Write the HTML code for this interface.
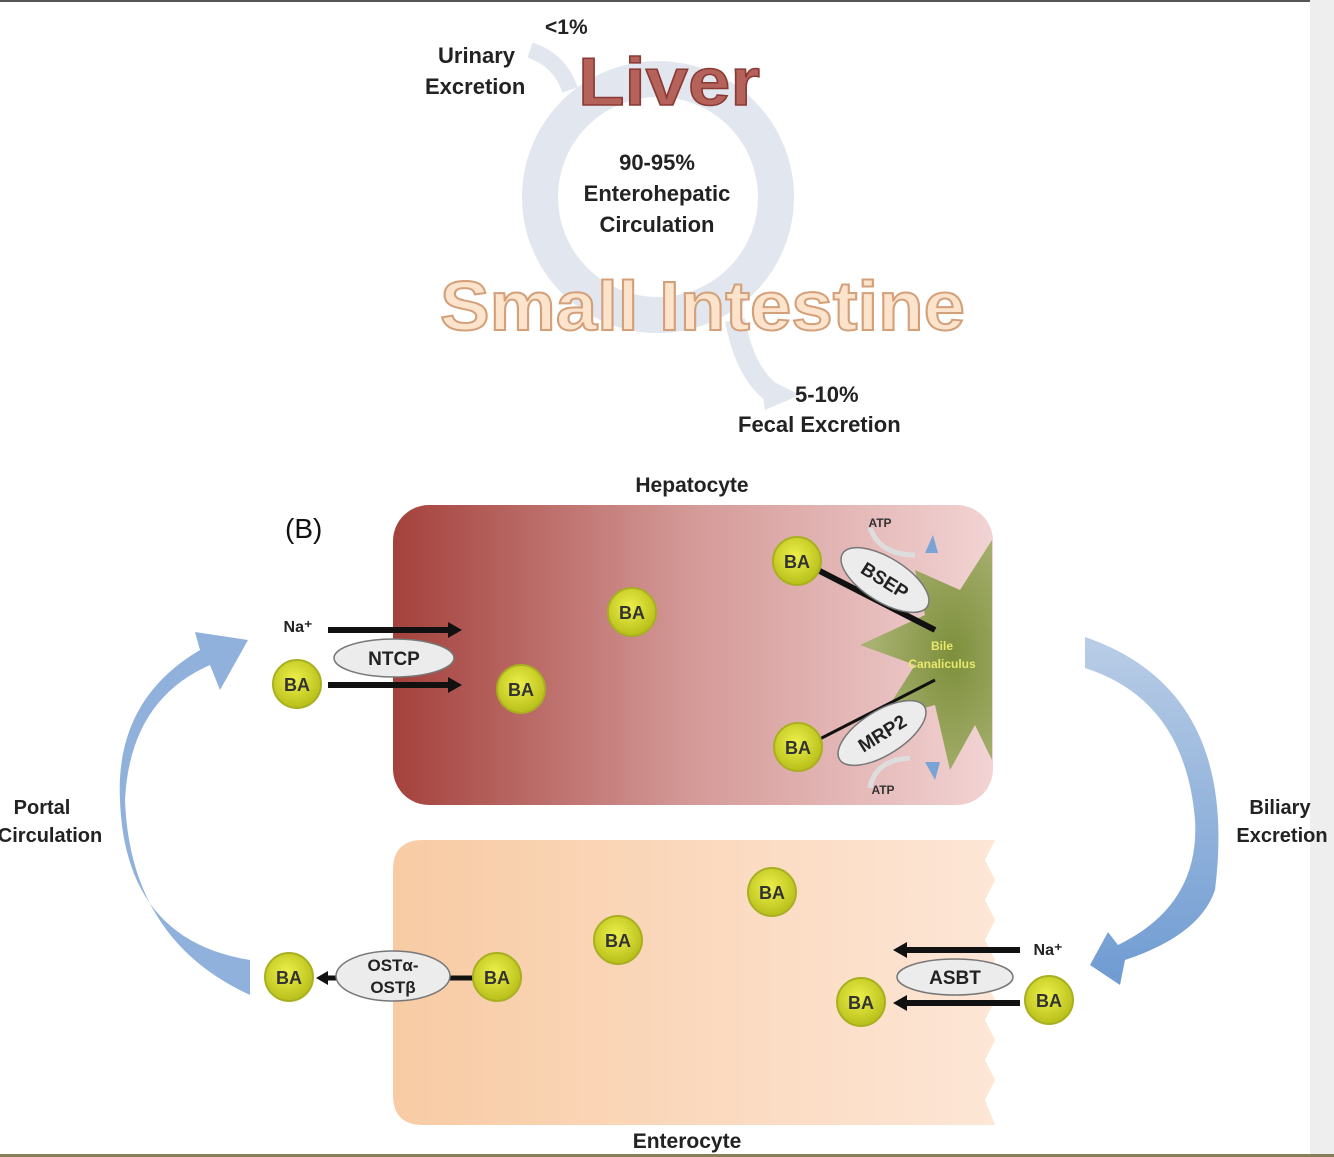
<!DOCTYPE html>
<html><head><meta charset="utf-8"><style>
body{margin:0;width:1334px;height:1157px;background:#fff;overflow:hidden;font-family:"Liberation Sans",sans-serif;}
svg{display:block}
</style></head><body>
<svg width="1334" height="1157" viewBox="0 0 1334 1157" font-family="Liberation Sans, sans-serif" font-weight="bold">
<defs>
<linearGradient id="hep" x1="0" x2="1"><stop offset="0" stop-color="#a4413c"/><stop offset="0.5" stop-color="#d49a98"/><stop offset="1" stop-color="#f2d3d3"/></linearGradient>
<linearGradient id="ent" x1="0" x2="1"><stop offset="0" stop-color="#f8cba4"/><stop offset="1" stop-color="#fde6d6"/></linearGradient>
<radialGradient id="ba" cx="0.45" cy="0.4" r="0.6"><stop offset="0" stop-color="#eef04a"/><stop offset="1" stop-color="#b8bf1a"/></radialGradient>
<radialGradient id="star" cx="0.7" cy="0.5" r="0.6"><stop offset="0" stop-color="#7d8f3c"/><stop offset="1" stop-color="#a8b170"/></radialGradient>
<linearGradient id="blu" x1="0" x2="0" y1="0" y2="1"><stop offset="0" stop-color="#b9cde6"/><stop offset="1" stop-color="#6f9bd2"/></linearGradient>
</defs>
<rect x="0" y="0" width="1334" height="2" fill="#555"/>
<rect x="1310" y="0" width="24" height="1157" fill="#eee"/>
<rect x="0" y="1154" width="1334" height="3" fill="#8a7d5c"/>

<!-- top circulation -->
<circle cx="658" cy="197" r="118" fill="none" stroke="#e2e7ef" stroke-width="36"/>
<path d="M530 50 Q560 60 570 90" fill="none" stroke="#e2e7ef" stroke-width="16"/>
<path d="M735 320 Q745 375 775 395" fill="none" stroke="#e2e7ef" stroke-width="20"/>
<polygon points="760,375 800,395 765,410" fill="#e2e7ef"/>
<text x="545" y="34" font-size="21" fill="#222">&lt;1%</text>
<text x="438" y="63" font-size="22" fill="#222">Urinary</text>
<text x="425" y="94" font-size="22" fill="#222">Excretion</text>
<text x="578" y="105" font-size="68" fill="#b5625a" stroke="#8a3a34" stroke-width="1.5" textLength="182" lengthAdjust="spacingAndGlyphs">Liver</text>
<text x="657" y="170" font-size="22" fill="#222" text-anchor="middle">90-95%</text>
<text x="657" y="201" font-size="22" fill="#222" text-anchor="middle">Enterohepatic</text>
<text x="657" y="232" font-size="22" fill="#222" text-anchor="middle">Circulation</text>
<text x="440" y="330" font-size="70" fill="#fbe3cc" stroke="#d4a07a" stroke-width="2" textLength="525" lengthAdjust="spacingAndGlyphs">Small Intestine</text>
<text x="795" y="402" font-size="22" fill="#222">5-10%</text>
<text x="738" y="432" font-size="22" fill="#222">Fecal Excretion</text>

<!-- boxes -->
<text x="692" y="492" font-size="21" fill="#222" text-anchor="middle">Hepatocyte</text>
<text x="285" y="538" font-size="28" fill="#111" font-weight="normal">(B)</text>
<rect x="393" y="505" width="600" height="300" rx="36" fill="url(#hep)"/>
<path d="M393 870 Q393 840 423 840 L995 840 L985 860 L995 880 L985 900 L995 920 L985 940 L995 960 L985 980 L995 1000 L985 1020 L995 1040 L985 1060 L995 1080 L985 1100 L995 1125 L423 1125 Q393 1125 393 1095 Z" fill="url(#ent)"/>
<text x="687" y="1148" font-size="21" fill="#222" text-anchor="middle">Enterocyte</text>

<!-- star -->
<polygon points="992,540 960,590 915,570 925,615 860,645 915,665 880,720 935,705 950,770 975,725 992,760" fill="url(#star)"/>
<text x="942" y="650" font-size="12" fill="#e8e86a" text-anchor="middle">Bile</text>
<text x="942" y="668" font-size="12" fill="#e8e86a" text-anchor="middle">Canaliculus</text>

<!-- lines -->
<g stroke="#111" fill="none">
<line x1="808" y1="565" x2="935" y2="630" stroke-width="6"/>
<line x1="808" y1="745" x2="935" y2="680" stroke-width="3"/>
<line x1="328" y1="630" x2="450" y2="630" stroke-width="6"/>
<line x1="328" y1="685" x2="450" y2="685" stroke-width="6"/>
<line x1="1020" y1="950" x2="905" y2="950" stroke-width="6"/>
<line x1="1020" y1="1003" x2="905" y2="1003" stroke-width="6"/>
<line x1="325" y1="978" x2="475" y2="978" stroke-width="5"/>
</g>
<g fill="#111">
<polygon points="448,622 462,630 448,638"/>
<polygon points="448,677 462,685 448,693"/>
<polygon points="907,942 893,950 907,958"/>
<polygon points="907,995 893,1003 907,1011"/>
<polygon points="328,971 316,978 328,985"/>
</g>

<!-- ATP arcs -->
<g fill="none" stroke="#ddd" stroke-width="5">
<path d="M870 528 Q880 555 915 555"/>
<path d="M870 788 Q875 760 910 758"/>
</g>
<polygon points="925,553 933,535 938,553" fill="#7aa3d6"/>
<polygon points="925,762 935,780 940,762" fill="#7aa3d6"/>
<text x="880" y="527" font-size="12" fill="#333" text-anchor="middle">ATP</text>
<text x="883" y="794" font-size="12" fill="#333" text-anchor="middle">ATP</text>

<!-- ovals -->
<g fill="#ececec" stroke="#777" stroke-width="1.5">
<ellipse cx="885" cy="580" rx="50" ry="22" transform="rotate(32 885 580)"/>
<ellipse cx="882" cy="733" rx="50" ry="22" transform="rotate(-32 882 733)"/>
<ellipse cx="394" cy="658" rx="60" ry="19"/>
<ellipse cx="393" cy="976" rx="57" ry="25"/>
<ellipse cx="955" cy="977" rx="58" ry="18"/>
</g>
<g font-size="19" fill="#222" text-anchor="middle">
<text x="885" y="587" transform="rotate(32 885 580)">BSEP</text>
<text x="882" y="740" transform="rotate(-32 882 733)">MRP2</text>
<text x="394" y="665">NTCP</text>
<text x="393" y="971" font-size="17">OSTα-</text>
<text x="393" y="993" font-size="17">OSTβ</text>
<text x="955" y="984">ASBT</text>
<text x="298" y="632" font-size="16">Na⁺</text>
<text x="1048" y="955" font-size="16">Na⁺</text>
</g>

<!-- BA -->
<g stroke="#a8b020" stroke-width="2" fill="url(#ba)">
<circle cx="797" cy="561" r="24"/><circle cx="632" cy="612" r="24"/><circle cx="521" cy="689" r="24"/>
<circle cx="297" cy="684" r="24"/><circle cx="798" cy="747" r="24"/>
<circle cx="772" cy="892" r="24"/><circle cx="618" cy="940" r="24"/>
<circle cx="289" cy="977" r="24"/><circle cx="497" cy="977" r="24"/>
<circle cx="861" cy="1002" r="24"/><circle cx="1049" cy="1000" r="24"/>
</g>
<g font-size="18" fill="#333" text-anchor="middle">
<text x="797" y="568">BA</text><text x="632" y="619">BA</text><text x="521" y="696">BA</text>
<text x="297" y="691">BA</text><text x="798" y="754">BA</text>
<text x="772" y="899">BA</text><text x="618" y="947">BA</text>
<text x="289" y="984">BA</text><text x="497" y="984">BA</text>
<text x="861" y="1009">BA</text><text x="1049" y="1007">BA</text>
</g>

<!-- big blue arrows -->
<path d="M1085 637 Q1240 690 1215 890 Q1200 935 1125 960 L1120 985 L1090 965 L1108 932 L1118 945 Q1200 905 1195 820 Q1185 700 1085 668 Z" fill="url(#blu)"/>
<path d="M250 995 Q130 940 125 800 Q130 700 210 665 L220 690 L248 640 L195 632 L200 650 Q115 700 120 800 Q125 940 250 960 Z" fill="#8fb1dc"/>
<text x="42" y="814" font-size="20" fill="#222" text-anchor="middle">Portal</text>
<text x="50" y="842" font-size="20" fill="#222" text-anchor="middle">Circulation</text>
<text x="1280" y="814" font-size="20" fill="#222" text-anchor="middle">Biliary</text>
<text x="1282" y="842" font-size="20" fill="#222" text-anchor="middle">Excretion</text>
</svg>
</body></html>
